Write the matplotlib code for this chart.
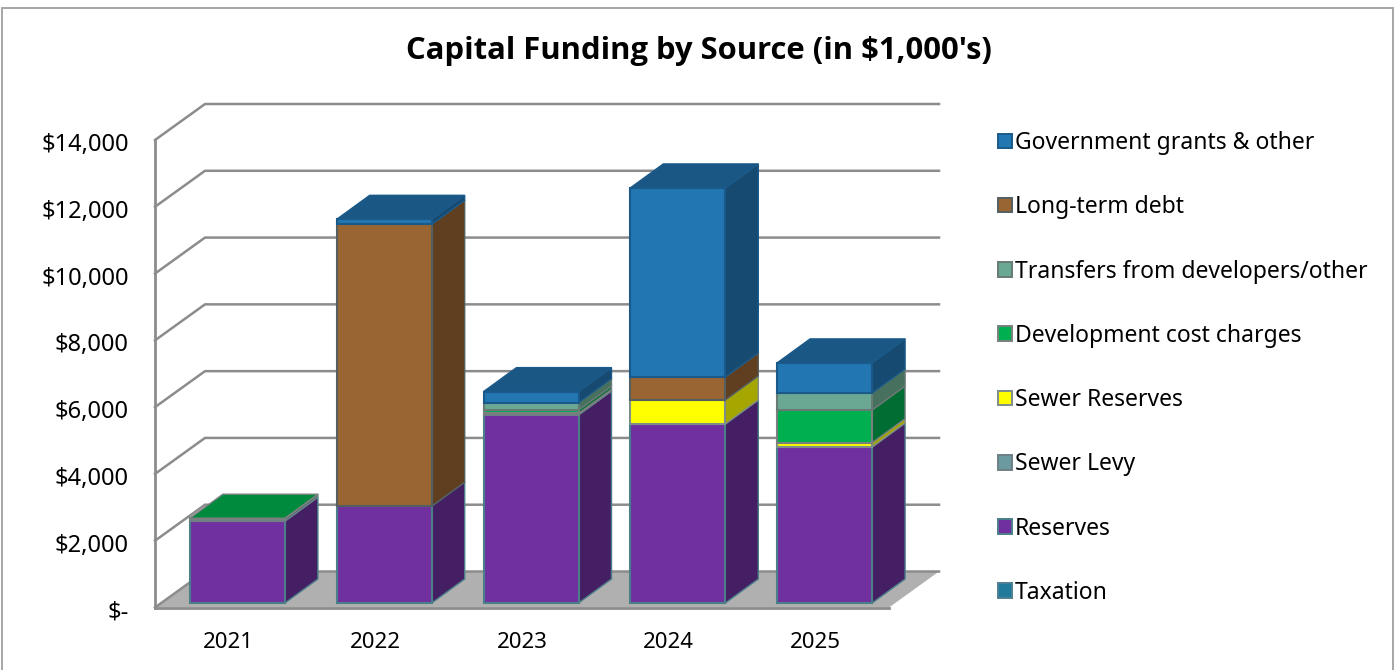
"""Capital funding by source, pseudo-3D stacked columns like the Excel original."""
import matplotlib.pyplot as plt
from matplotlib.patches import Patch, Polygon, Rectangle

plt.rcParams["font.family"] = ["Noto Sans", "DejaVu Sans"]

YEARS = ["2021", "2022", "2023", "2024", "2025"]
SERIES = [
    "Taxation",
    "Reserves",
    "Sewer Levy",
    "Sewer Reserves",
    "Development cost charges",
    "Transfers from developers/other",
    "Long-term debt",
    "Government grants & other",
]
TAXATION = [0, 0, 0, 0, 0]
RESERVES = [2450, 2900, 5630, 5360, 4670]
SEWER_LEVY = [80, 0, 50, 0, 0]
SEWER_RESERVES = [0, 0, 0, 720, 130]
DEV_CHARGES = [10, 0, 100, 0, 980]
TRANSFERS = [0, 0, 220, 0, 510]
DEBT = [0, 8440, 0, 690, 0]
GRANTS = [0, 150, 330, 5660, 900]
VALUES = [TAXATION, RESERVES, SEWER_LEVY, SEWER_RESERVES, DEV_CHARGES, TRANSFERS, DEBT, GRANTS]
TICKS = [0, 2000, 4000, 6000, 8000, 10000, 12000, 14000]

# front, side, top, edge
COLORS = [
    ("#1F7A9C", "#155468", "#18637E", "#4F8090"),
    ("#7030A0", "#451F63", "#552578", "#4A7F8A"),
    ("#6B9AA0", "#47686C", "#557C80", "#6F8085"),
    ("#FFFF00", "#A6A600", "#C8C800", "#7F8C8C"),
    ("#00B050", "#006E32", "#008A3E", "#7A8080"),
    ("#6BA893", "#47705F", "#557F70", "#687A75"),
    ("#996633", "#5F3F20", "#76502A", "#555F5F"),
    ("#2276B2", "#174A70", "#1A5785", "#1A5A8A"),
]
GRID = "#8C8C8C"
FLOOR = "#B0B0B0"

# axes box in pixels of the 1400x670 canvas
LEFT, RIGHT, BOTTOM, TOP = 155, 889, 607.5, 140
XPX = (RIGHT - LEFT) / len(YEARS)
YPX = (BOTTOM - TOP) / TICKS[-1]

WALL_DX, WALL_DY = 50 / XPX, 36 / YPX
BAR_DX, BAR_DY = 33 / XPX, 24 / YPX
BAR_SHIFT, BAR_LIFT = 9 / XPX, 4.5 / YPX
BAR_W = 95 / XPX


def money(v):
    return "$-" if v == 0 else f"${v:,.0f}"


def draw_walls(ax):
    n = len(YEARS)
    ax.add_patch(Polygon([(0, 0), (WALL_DX, WALL_DY), (n + WALL_DX, WALL_DY), (n, 0)],
                         closed=True, fc=FLOOR, ec="none", clip_on=False, zorder=1))
    for t in TICKS:
        ax.plot([0, WALL_DX, n + WALL_DX], [t, t + WALL_DY, t + WALL_DY],
                color=GRID, lw=1.8, clip_on=False, zorder=2, solid_joinstyle="miter")


def draw_column(ax, i):
    x0 = i + 0.5 - BAR_W / 2 + BAR_SHIFT
    x1 = x0 + BAR_W
    base = BAR_LIFT
    last = None
    for s, vals in enumerate(VALUES):
        v = vals[i]
        if v <= 0:
            continue
        front, side, _top, edge = COLORS[s]
        top = base + v
        ax.add_patch(Polygon([(x0, base), (x1, base), (x1, top), (x0, top)], closed=True,
                             fc=front, ec=edge, lw=1.5, clip_on=False, zorder=4))
        ax.add_patch(Polygon([(x1, base), (x1 + BAR_DX, base + BAR_DY),
                              (x1 + BAR_DX, top + BAR_DY), (x1, top)], closed=True,
                             fc=side, ec=edge, lw=1.0, clip_on=False, zorder=3))
        base = top
        last = s
    _f, _s, top_c, edge = COLORS[last]
    ax.add_patch(Polygon([(x0, base), (x1, base), (x1 + BAR_DX, base + BAR_DY),
                          (x0 + BAR_DX, base + BAR_DY)], closed=True,
                         fc=top_c, ec=edge, lw=1.0, clip_on=False, zorder=4))


def main():
    fig = plt.figure(figsize=(14, 6.7), dpi=100, facecolor="white")
    ax = fig.add_axes([LEFT / 1400, 1 - BOTTOM / 670, (RIGHT - LEFT) / 1400, (BOTTOM - TOP) / 670])
    ax.set_xlim(0, len(YEARS))
    ax.set_ylim(0, TICKS[-1])
    ax.patch.set_visible(False)

    draw_walls(ax)
    for i in range(len(YEARS)):
        draw_column(ax, i)

    ax.set_xticks([i + 0.5 for i in range(len(YEARS))], YEARS)
    ax.set_yticks(TICKS, [""] * len(TICKS))
    ax.tick_params(axis="both", length=0, labelsize=16, labelcolor="black")
    ax.tick_params(axis="x", pad=18)
    # tick text sits a little below its gridline in the original
    for t in TICKS:
        ax.annotate(money(t), (0, t), xycoords=("axes fraction", "data"),
                    xytext=(-19, -3.7), textcoords="offset points",
                    ha="right", va="center", fontsize=17)
    for name in ("top", "right"):
        ax.spines[name].set_visible(False)
    for name in ("left", "bottom"):
        ax.spines[name].set_color(GRID)
        ax.spines[name].set_linewidth(2.0)
        ax.spines[name].set_zorder(5)

    handles = [Patch(fc=COLORS[s][0], ec=COLORS[s][3], lw=1.4, label=SERIES[s])
               for s in range(len(SERIES) - 1, -1, -1)]
    fig.legend(handles=handles, loc="upper left", bbox_to_anchor=(998 / 1400, 1 - 131 / 670),
               frameon=False, fontsize=16.5, labelspacing=1.757, handlelength=0.6,
               handleheight=0.6, handletextpad=0.15, borderpad=0, borderaxespad=0)

    fig.text(698.5 / 1400, 1 - 51 / 670, "Capital Funding by Source (in $1,000's)",
             ha="center", va="center", fontsize=22.3, fontweight="bold", family="Open Sans")
    fig.add_artist(Rectangle((2 / 1400, -0.1), 1391 / 1400, 1.1 - 8 / 670, fill=False,
                             ec="#A6A6A6", lw=1.4, transform=fig.transFigure))

    fig.savefig("out.png", dpi=100)
    plt.close(fig)


if __name__ == "__main__":
    main()
